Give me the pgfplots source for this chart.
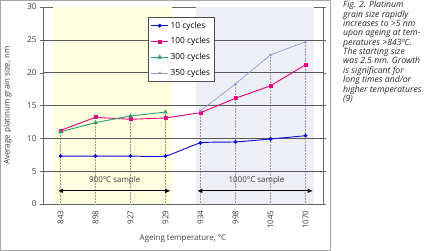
\documentclass[border=0pt]{standalone}
\usepackage{pgfplots}
\pgfplotsset{compat=1.18}
\usepackage{fontspec}
\setmainfont{Open Sans}
\usetikzlibrary{arrows.meta}
\definecolor{cblue}{RGB}{10,10,220}
\definecolor{cmag}{RGB}{228,0,125}
\definecolor{cgreen}{RGB}{55,155,110}
\definecolor{clav}{RGB}{150,150,205}
\definecolor{cyel}{RGB}{255,255,224}
\definecolor{cgray}{RGB}{238,238,246}
\definecolor{txt}{RGB}{60,60,60}
\begin{document}
\begin{tikzpicture}
\useasboundingbox (0,0) rectangle (425bp,251bp);
\draw[gray!70,line width=0.8bp] (0.5bp,1bp) rectangle (330bp,250.5bp);
\begin{axis}[
  at={(43bp,47bp)}, anchor=south west,
  scale only axis, width=280bp, height=197bp,
  xmin=-0.5, xmax=7.5, ymin=0, ymax=30,
  xtick={0,...,7},
  xticklabels={843,898,927,929,934,998,1045,1070},
  xticklabel style={rotate=90, anchor=east, font=\fontsize{8}{8}\selectfont, text=txt},
  yticklabel style={font=\fontsize{8.2}{8}\selectfont, text=txt},
  /pgf/number format/assume math mode=true,
  ytick={0,5,...,30},
  tick align=outside,
  major tick length=3bp, tick style={black!60},
  xtick style={draw=none},
  axis line style={black!60},
  xlabel={Ageing temperature, \textdegree C},
  ylabel={Average platinum grain size, nm},
  xlabel style={font=\fontsize{8}{8}\selectfont, text=txt, yshift=1bp},
  ylabel style={font=\fontsize{8}{8}\selectfont, text=txt, at={(axis description cs:-0.1,0.5)}},
  legend style={at={(0.375,0.949)}, anchor=north west, font=\fontsize{8.4}{9}\selectfont, draw=black!70, line width=0.5bp, row sep=3.9bp, inner sep=2.5bp},
  legend cell align=left,
  clip=false,
]
\fill[cyel] (axis cs:-0.2,0) rectangle (axis cs:3.2,30);
\fill[cgray] (axis cs:3.86,0) rectangle (axis cs:7.23,30);
\addplot[ycomb, densely dotted, black!40, no marks, line width=0.5bp, forget plot] coordinates {(0,11.2)(1,13.2)(2,13.4)(3,14.0)(4,14.2)(5,18.3)(6,22.7)(7,24.7)};
\pgfplotsinvokeforeach{5,10,15,20,25}{\draw[black!65, line width=0.6bp] (axis cs:-0.5,#1) -- (axis cs:7.5,#1);}
\addplot[cblue, line width=0.9bp, smooth, tension=0.3, mark=*, mark size=1.4bp, mark options={solid}] coordinates {(0,7.3)(1,7.3)(2,7.3)(3,7.3)(4,9.3)(5,9.45)(6,9.9)(7,10.4)};
\addlegendentry{10 cycles}
\addplot[cmag, line width=0.9bp, mark=square*, mark size=1.5bp] coordinates {(0,11.2)(1,13.2)(2,12.9)(3,13.1)(4,13.9)(5,16.1)(6,18.0)(7,21.2)};
\addlegendentry{100 cycles}
\addplot[cgreen, line width=0.9bp, mark=triangle*, mark size=1.8bp] coordinates {(0,11.0)(1,12.4)(2,13.4)(3,14.0)};
\addlegendentry{300 cycles}
\addplot[clav, line width=0.7bp, mark=x, mark size=1.6bp] coordinates {(4,14.2)(5,18.3)(6,22.7)(7,24.7)};
\addlegendentry{350 cycles}
\draw[black, line width=1.1bp, {Latex[length=5.5bp,width=4.5bp]}-{Latex[length=5.5bp,width=4.5bp]}] (axis cs:-0.08,2) -- (axis cs:3.15,2);
\node[font=\fontsize{8}{8}\selectfont, text=txt, anchor=south] at (axis cs:1.55,2.4) {900\textdegree C sample};
\draw[black, line width=1.1bp, {Latex[length=5.5bp,width=4.5bp]}-{Latex[length=5.5bp,width=4.5bp]}] (axis cs:3.9,2) -- (axis cs:7.22,2);
\node[font=\fontsize{8}{8}\selectfont, text=txt, anchor=south] at (axis cs:5.6,2.4) {1000\textdegree C sample};
\end{axis}
\node[anchor=north west, align=left, font=\fontsize{8.7}{9.4}\selectfont\itshape, text=black!85, inner sep=0pt] at (343bp,250bp) {Fig. 2. Platinum\\grain size rapidly\\increases to >5 nm\\upon ageing at tem-\\peratures >843ºC.\\The starting size\\was 2.5 nm. Growth\\is significant for\\long times and/or\\higher temperatures\\(9)};
\end{tikzpicture}
\end{document}
